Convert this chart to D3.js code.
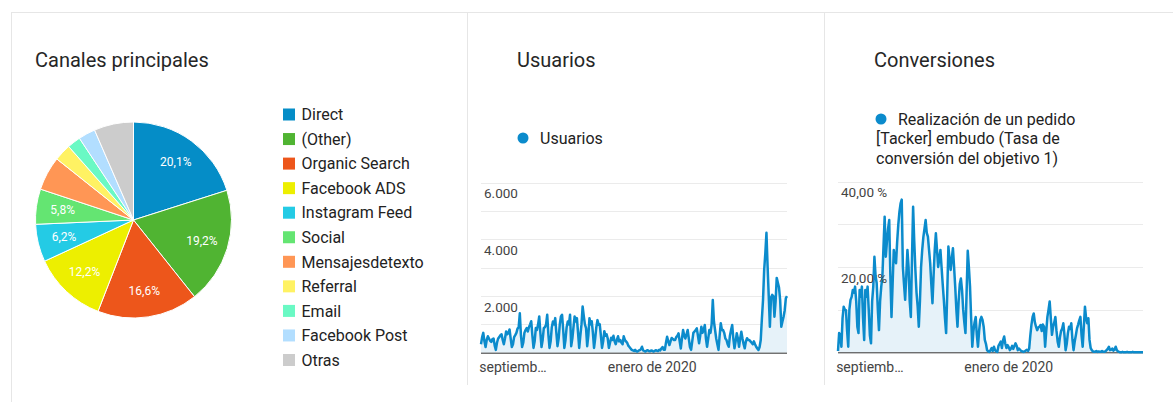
<!DOCTYPE html>
<html>
<head>
<meta charset="utf-8">
<script src="https://cdn.jsdelivr.net/npm/d3@7"></script>
<style>
  html, body { margin: 0; padding: 0; background: #fff; }
  svg { display: block; font-family: Roboto, "Noto Sans", Arial, sans-serif; }
</style>
</head>
<body>
<svg id="dash" width="1173" height="402"></svg>
<script>
// ---- Canales principales ----
const channels = ["Direct", "(Other)", "Organic Search", "Facebook ADS", "Instagram Feed", "Social",
  "Mensajesdetexto", "Referral", "Email", "Facebook Post", "Otras"];
const channelShares = [20.1, 19.2, 16.6, 12.2, 6.2, 5.8, 5.6, 2.8, 2.2, 2.8, 6.5];
const channelColors = ["#058dc7", "#50b432", "#ed561b", "#edef00", "#24cbe5", "#64e572",
  "#ff9655", "#fff263", "#6af9c4", "#b2deff", "#cccccc"];
const labelledChannels = ["Direct", "(Other)", "Organic Search", "Facebook ADS", "Instagram Feed", "Social"];

// ---- Daily series, first day = startDate ----
const startDate = "2019-08-04";
const xTickDates = ["2019-09-01", "2020-01-01"];
const xTickLabels = ["septiemb…", "enero de 2020"];

const usuarios = [
  300,550,700,400,200,450,580,500,420,380,
  480,500,250,100,350,500,550,620,650,450,
  300,500,750,650,700,820,500,200,300,550,
  620,700,850,900,1390,600,200,350,700,800,
  870,750,900,1000,1110,600,170,400,870,800,
  1000,1280,700,200,450,870,900,1000,1340,650,
  170,400,900,1100,1000,1220,700,230,500,1000,
  1280,1340,800,170,450,900,1100,1000,1340,230,
  500,900,1280,1100,1220,700,170,600,990,1630,
  1300,1000,870,230,600,1220,1000,1110,700,170,
  500,900,1150,990,1000,600,170,400,760,600,
  650,500,170,350,530,450,600,400,300,450,
  580,400,450,350,300,580,450,400,350,250,
  200,150,100,80,60,100,50,40,70,90,
  120,210,80,60,40,70,90,60,50,80,
  70,40,60,90,70,60,100,80,150,200,
  100,100,350,565,400,270,400,520,480,450,
  450,550,600,685,400,150,500,800,600,500,
  650,800,500,200,100,400,700,750,800,860,
  600,330,600,920,700,800,980,500,210,500,
  800,700,1000,1860,1100,800,500,300,100,600,
  1040,800,800,700,500,450,300,210,600,800,
  980,500,155,400,685,500,210,500,740,500,
  300,155,400,510,450,450,400,350,300,400,
  300,210,150,95,200,450,1200,1860,2920,3500,
  4230,3050,2000,920,1950,2040,2000,1270,1800,2640,
  2470,2300,1860,920,1100,1270,1500,1930,2000
];
const usuariosGrid = [0, 1000, 2000, 3000, 4000, 5000, 6000];
const usuariosTickLabels = [2000, 4000, 6000];

const conversiones = [
  0.3,4.5,4,1.3,8,10.7,10,9.9,5,1.3,
  10,12.3,13,14.6,14,15.4,12,6,4.5,14.6,
  13,15.4,8,2.9,14.6,13,15.4,10,4,2.1,
  12,15.4,22.4,18,16.2,10,5.2,12,15.4,17.7,
  25,31.8,22.4,26,29,31,18,8.3,16,24,
  22,20.9,26,30,33,34.9,35.8,20,16,12.3,
  18,24,20,12,8.3,22,34.1,26,19.3,14,
  10.7,6,12,20,24,27,29,31,28,27.1,
  24,20.9,16,11.5,18,24,27.9,24,20,22,
  24,20,16,12.3,8,4.5,14,24.8,22,19.3,
  22,24.4,20,15.4,10,6,12,16,17.3,14.6,
  10,7,4.5,14,23.8,20,15.4,8,1.3,5,
  7,8.3,4,1.3,5,7.6,8.3,7.6,6,2.9,
  2,0.5,0.2,0.1,0.5,1,0.3,1.3,0.5,0.2,
  0.1,1.5,2,2.5,1,2.8,3.7,2,1,1.7,
  1.2,0.5,0.9,1.5,0.8,1.5,2.1,1.5,0.5,0.9,
  0.6,0.3,0.2,0.1,0.2,0.4,0.6,0.3,0.9,4,
  6.5,8.3,9.1,7,6,5.2,5.8,6,6.4,5,
  6.5,6,1.3,5,8.3,10,11.9,8,4.1,6,
  7,8.3,5,2.5,1.3,3.5,5,5.6,6.8,4,
  0.5,2,4.5,6,5.5,6.8,3,0.5,2.5,4,
  5.6,6.5,7.5,8.3,4,1.3,6,10.7,8,6.8,
  8,2.9,1,0.5,0.2,0.1,0.1,0.3,0.1,0.2,
  0.1,0.1,0.3,0.1,0.1,0.2,0.5,0.8,1.3,0.5,
  0.6,0.9,0.4,0.6,1.3,0.5,0.2,0.1,0,0,
  0.1,0,0,0,0.1,0,0,0,0,0.1,
  0,0,0,0,0,0,0,0,0
];
const conversionesGrid = [0, 10, 20, 30, 40];
const conversionesTickLabels = [20, 40];

// Spanish number formatting
const es = d3.formatLocale({ decimal: ",", thousands: ".", grouping: [3], currency: ["", " €"] });
const fmtPct1 = es.format(".1f");
const fmtInt = es.format(",d");
const fmtPct2 = es.format(".2f");

const svg = d3.select("#dash");
const BLUE = "#0b8bcc";
const TEXT = "#222";

// card frame and panel dividers
const frame = svg.append("g").attr("stroke", "#e6e6e6").attr("stroke-width", 1).attr("fill", "none");
frame.append("line").attr("x1", 11).attr("x2", 1173).attr("y1", 12.5).attr("y2", 12.5);
frame.append("line").attr("x1", 11.5).attr("x2", 11.5).attr("y1", 12).attr("y2", 402);
frame.append("line").attr("x1", 467.5).attr("x2", 467.5).attr("y1", 12).attr("y2", 385);
frame.append("line").attr("x1", 824.5).attr("x2", 824.5).attr("y1", 12).attr("y2", 385);

// panel titles
const titles = [["Canales principales", 35], ["Usuarios", 517], ["Conversiones", 874]];
svg.selectAll("text.title").data(titles).join("text")
  .attr("class", "title")
  .attr("x", d => d[1]).attr("y", 67)
  .attr("font-size", 20).attr("fill", "#262626")
  .text(d => d[0]);

// ---- Pie ----
const pieData = channels.map((c, i) => ({ name: c, value: channelShares[i], color: channelColors[i] }));
const R = 98;
const pieG = svg.append("g").attr("transform", "translate(133.5,220)");
const pie = d3.pie().sort(null).value(d => d.value);
const arc = d3.arc().innerRadius(0).outerRadius(R);
const labelArc = d3.arc().innerRadius(R * 0.73).outerRadius(R * 0.73);
const arcs = pie(pieData);
pieG.selectAll("path").data(arcs).join("path")
  .attr("d", arc).attr("fill", d => d.data.color)
  .attr("stroke", "#fff").attr("stroke-width", 1);
pieG.selectAll("text").data(arcs.filter(d => labelledChannels.includes(d.data.name))).join("text")
  .attr("transform", d => `translate(${labelArc.centroid(d)})`)
  .attr("text-anchor", "middle").attr("dy", "0.35em")
  .attr("font-size", 12).attr("fill", "#fff")
  .text(d => fmtPct1(d.data.value) + "%");

// legend
const legY = d3.scalePoint().domain(channels).range([114.5, 360]);
const leg = svg.append("g").selectAll("g").data(pieData).join("g")
  .attr("transform", d => `translate(283,${legY(d.name)})`);
leg.append("rect").attr("x", 0).attr("y", -6).attr("width", 12).attr("height", 12).attr("fill", d => d.color);
leg.append("text").attr("x", 18.5).attr("dy", "0.36em").attr("font-size", 16).attr("fill", TEXT).text(d => d.name);

// ---- Line/area charts ----
function lineChart(opts) {
  const t0 = d3.isoParse(startDate);
  const values = opts.values;
  const x = d3.scaleTime()
    .domain([t0, d3.timeDay.offset(t0, values.length - 1)])
    .range([opts.left, opts.right]);
  const y = d3.scaleLinear().domain([0, opts.max]).range([opts.bottom, opts.top]);
  const g = svg.append("g");

  g.selectAll("line.grid").data(opts.grid.filter(v => v > 0)).join("line")
    .attr("x1", opts.left).attr("x2", opts.right)
    .attr("y1", d => Math.round(y(d)) + 0.5).attr("y2", d => Math.round(y(d)) + 0.5)
    .attr("stroke", "#ebebeb").attr("stroke-width", 1);

  const pts = values.map((v, i) => [d3.timeDay.offset(t0, i), v]);
  g.append("path").datum(pts)
    .attr("d", d3.area().x(d => x(d[0])).y0(y(0)).y1(d => y(d[1])))
    .attr("fill", "#e6f2f9");
  g.append("line")
    .attr("x1", opts.left).attr("x2", opts.right)
    .attr("y1", y(0) + 0.5).attr("y2", y(0) + 0.5)
    .attr("stroke", "#333").attr("stroke-width", 1);
  g.append("path").datum(pts)
    .attr("d", d3.line().x(d => x(d[0])).y(d => y(d[1])))
    .attr("fill", "none").attr("stroke", BLUE).attr("stroke-width", 2.5)
    .attr("stroke-linejoin", "round");

  g.selectAll("text.ylab").data(opts.tickLabels).join("text")
    .attr("x", opts.left + 3).attr("y", d => y(d) + 11).attr("dy", "0.35em")
    .attr("font-size", 13.5).attr("fill", "#444")
    .text(opts.fmt);

  g.selectAll("text.xlab").data(xTickDates).join("text")
    .attr("x", d => x(d3.isoParse(d))).attr("y", 367).attr("dy", "0.35em")
    .attr("text-anchor", "middle")
    .attr("font-size", 14).attr("fill", "#444")
    .text((d, i) => xTickLabels[i]);
}

lineChart({
  values: usuarios, max: 6000, grid: usuariosGrid, tickLabels: usuariosTickLabels,
  left: 481, right: 787, top: 182.7, bottom: 352.7, fmt: d => fmtInt(d)
});
lineChart({
  values: conversiones, max: 40, grid: conversionesGrid, tickLabels: conversionesTickLabels,
  left: 838, right: 1143, top: 181.7, bottom: 352.3, fmt: d => fmtPct2(d) + " %"
});

// series legends
svg.append("circle").attr("cx", 523).attr("cy", 138).attr("r", 5.5).attr("fill", BLUE);
svg.append("text").attr("x", 540).attr("y", 138).attr("dy", "0.36em")
  .attr("font-size", 16).attr("fill", TEXT).text("Usuarios");

svg.append("circle").attr("cx", 881).attr("cy", 119).attr("r", 5.5).attr("fill", BLUE);
const convLegend = [["Realización de un pedido", 898, 119], ["[Tacker] embudo (Tasa de", 876, 138.5], ["conversión del objetivo 1)", 876, 158]];
svg.selectAll("text.convleg").data(convLegend).join("text")
  .attr("x", d => d[1]).attr("y", d => d[2]).attr("dy", "0.36em")
  .attr("font-size", 16).attr("fill", TEXT).text(d => d[0]);
</script>
</body>
</html>
